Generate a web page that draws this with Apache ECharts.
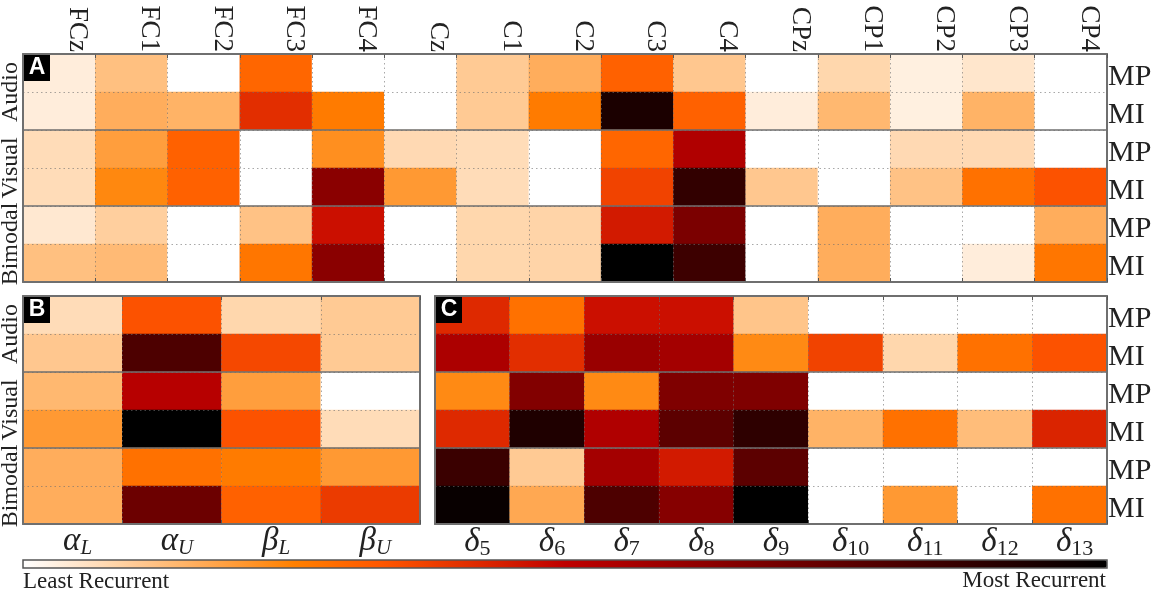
<!DOCTYPE html>
<html><head><meta charset="utf-8">
<style>html,body{margin:0;padding:0;background:#fff}#c{width:1158px;height:594px}</style>
<script src="https://cdn.jsdelivr.net/npm/echarts@6/dist/echarts.min.js"></script>
</head><body><div id="c"></div>
<script>
const groups = ['Audio', 'Visual', 'Bimodal'];
const rows = ['MP', 'MI', 'MP', 'MI', 'MP', 'MI'];
const channels = ['FCz','FC1','FC2','FC3','FC4','Cz','C1','C2','C3','C4','CPz','CP1','CP2','CP3','CP4'];
const bands = ['{g|α}{s|L}', '{g|α}{s|U}', '{g|β}{s|L}', '{g|β}{s|U}'];
const deltas = ['5','6','7','8','9','10','11','12','13'];
// each inner list = one column, rows top to bottom
const panelA = [
 [.035,.035,.07,.07,.045,.125],
 [.125,.16,.19,.235,.095,.135],
 [0,.15,.31,.31,0,0],
 [.3,.41,0,0,.12,.27],
 [0,.26,.22,.64,.47,.64],
 [0,0,.075,.2,0,0],
 [.105,.105,.07,.07,.08,.08],
 [.16,.26,0,0,.085,.085],
 [.31,.93,.3,.37,.45,1],
 [.11,.31,.54,.87,.68,.84],
 [0,.035,0,.11,0,0],
 [.08,.14,0,0,.16,.16],
 [.03,.03,.075,.12,0,0],
 [.05,.15,.075,.28,0,.035],
 [0,0,0,.34,.16,.27]
];
const panelB = [
 [.07,.11,.14,.2,.16,.16],
 [.34,.8,.52,1,.28,.72],
 [.08,.36,.19,.34,.26,.31],
 [.105,.105,0,.07,.2,.385]
];
const panelC = [
 [.42,.55,.23,.42,.85,.98],
 [.28,.41,.66,.92,.105,.17],
 [.47,.6,.23,.54,.57,.8],
 [.47,.57,.67,.76,.45,.65],
 [.115,.23,.67,.88,.76,1],
 [0,.37,0,.15,0,0],
 [0,.08,0,.28,0,.2],
 [0,.28,0,.13,0,0],
 [0,.34,0,.43,0,.28]
];
const rampColors = ['#ffffff','#ffd5aa','#ffaa55','#ff8000','#ff5500','#df2b00','#bf0000','#9f0000','#800000','#600000','#400000','#200000','#000000'];

const serif = '"Liberation Serif","DejaVu Serif",serif';
const frame = '#6f6f6f', dot = 'rgba(110,110,110,0.6)';
const deltaLabels = deltas.map(d => '{g|δ}{n|' + d + '}');
const panels = [
 {vals: panelA, cats: channels, left: 23, top: 54, width: 1084, height: 228, labelsTop: true, rightLabels: true},
 {vals: panelB, cats: bands, left: 23, top: 296, width: 397, height: 228, labelsTop: false, rightLabels: false},
 {vals: panelC, cats: deltaLabels, left: 435, top: 296, width: 672, height: 228, labelsTop: false, rightLabels: true}
];
const grid = [], xAxis = [], yAxis = [], series = [];
const rich = {
  g: {fontFamily: serif, fontStyle: 'italic', fontSize: 33, color: '#222'},
  s: {fontFamily: serif, fontStyle: 'italic', fontSize: 21, color: '#222', padding: [14,0,0,0]},
  n: {fontFamily: serif, fontSize: 22, color: '#222', padding: [14,0,0,0]}
};
panels.forEach((p, i) => {
  grid.push({left: p.left, top: p.top, width: p.width, height: p.height, show: false, outerBoundsMode: 'none', containLabel: false});
  const tickIn = {show: true, inside: true, length: 4, lineStyle: {color: '#555', width: 1}};
  xAxis.push({gridIndex: i, type: 'category', data: p.cats, position: p.labelsTop ? 'top' : 'bottom', z: 5,
    axisLine: {show: true, lineStyle: {color: frame, width: 2}}, axisTick: tickIn,
    splitLine: {show: true, lineStyle: {color: dot, type: [1.5,3], width: 1}},
    axisLabel: p.labelsTop
      ? {rotate: 90, fontFamily: serif, fontSize: 27, color: '#222', margin: 2, interval: 0, verticalAlign: 'bottom', lineHeight: 36}
      : {fontFamily: serif, fontSize: 24, color: '#222', margin: 0, interval: 0, rich, padding: [0,0,0,10]}});
  xAxis.push({gridIndex: i, type: 'category', data: p.cats, position: p.labelsTop ? 'bottom' : 'top', z: 5,
    axisLine: {show: true, lineStyle: {color: frame, width: 2}}, axisTick: tickIn, axisLabel: {show: false}, splitLine: {show: false}});
  yAxis.push({gridIndex: i, type: 'category', data: rows.map((r, k) => k + r), inverse: true, position: 'right', z: 5,
    axisLine: {show: true, lineStyle: {color: frame, width: 2}}, axisTick: {show: false},
    splitLine: {show: true, lineStyle: {color: dot, type: [1.5,3], width: 1}},
    axisLabel: {show: p.rightLabels, formatter: v => v.slice(1), fontFamily: serif, fontSize: 30, color: '#222', margin: 1, interval: 0, verticalAlign: 'top', lineHeight: 8}});
  yAxis.push({gridIndex: i, type: 'category', data: groups, inverse: true, position: 'left', z: 6,
    axisLine: {show: true, lineStyle: {color: frame, width: 2}}, axisTick: {show: false},
    splitLine: {show: true, lineStyle: {color: frame, width: 1.5}},
    axisLabel: {show: i !== 2, rotate: 90, fontFamily: serif, fontSize: 24, color: '#222', margin: 0, interval: 0}});
  const data = [];
  p.vals.forEach((col, x) => col.forEach((v, y) => data.push([x, y, v])));
  series.push({type: 'heatmap', xAxisIndex: i * 2, yAxisIndex: i * 2, data, silent: true, progressive: 0, animation: false,
    itemStyle: {borderWidth: 0}, emphasis: {disabled: true}});
});
const badge = (x, y, t) => ({type: 'group', x, y, children: [
  {type: 'rect', z: 100, shape: {x: 0, y: 0, width: 26, height: 26}, style: {fill: '#000'}},
  {type: 'text', z: 101, x: 13, y: 13, style: {text: t, fill: '#fff', font: 'bold 23px "Liberation Sans",Arial,sans-serif', align: 'center', verticalAlign: 'middle'}}
]});
const chart = echarts.init(document.getElementById('c'), null, {renderer: 'canvas'});
chart.setOption({
  animation: false, backgroundColor: '#fff', grid, xAxis, yAxis, series,
  visualMap: {type: 'continuous', min: 0, max: 1, orient: 'horizontal', left: 23, top: 560, itemWidth: 8, itemHeight: 1084,
    padding: 0, calculable: false, text: null, seriesIndex: [0,1,2], inRange: {color: rampColors}, showLabel: false, hoverLink: false, silent: true},
  graphic: {elements: [
    badge(24, 55, 'A'), badge(24, 297, 'B'), badge(436, 297, 'C'),
    {type: 'rect', z: 99, shape: {x: 23, y: 560, width: 1084, height: 8}, style: {fill: null, stroke: '#555', lineWidth: 1.5}},
    {type: 'text', z: 99, x: 23, y: 582, style: {text: 'Least Recurrent', fill: '#222', font: '23px ' + serif, align: 'left', verticalAlign: 'middle'}},
    {type: 'text', z: 99, x: 1106, y: 581, style: {text: 'Most Recurrent', fill: '#222', font: '23px ' + serif, align: 'right', verticalAlign: 'middle'}}
  ]}
});
</script></body></html>
